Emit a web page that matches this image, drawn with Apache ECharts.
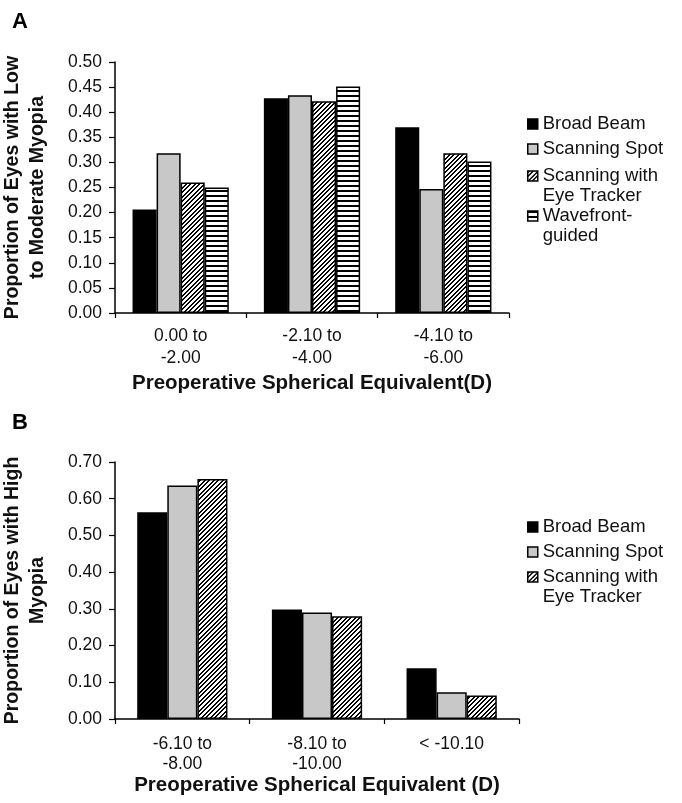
<!DOCTYPE html>
<html>
<head>
<meta charset="utf-8">
<script src="https://cdn.jsdelivr.net/npm/echarts@6/dist/echarts.min.js"></script>
<style>
html,body{margin:0;padding:0;background:#fff;}
#chart{width:682px;height:803px;}
</style>
</head>
<body>
<div id="chart"></div>
<script>
// ---- Data ----
var categoriesA = ['0.00 to\n-2.00', '-2.10 to\n-4.00', '-4.10 to\n-6.00'];
var broadBeamA = [0.206, 0.428, 0.370];
var scanningSpotA = [0.318, 0.434, 0.247];
var eyeTrackerA = [0.260, 0.422, 0.318];
var wavefrontA = [0.250, 0.451, 0.302];

var categoriesB = ['-6.10 to\n-8.00', '-8.10 to\n-10.00', '< -10.10'];
var broadBeamB = [0.563, 0.298, 0.138];
var scanningSpotB = [0.636, 0.290, 0.073];
var eyeTrackerB = [0.654, 0.280, 0.064];

var seriesNames = ['Broad Beam', 'Scanning Spot', 'Scanning with Eye Tracker', 'Wavefront-guided'];
var legendLabels = ['Broad Beam', 'Scanning Spot', 'Scanning with\nEye Tracker', 'Wavefront-\nguided'];
var yTicksA = {min: 0, max: 0.5, interval: 0.05};
var yTicksB = {min: 0, max: 0.7, interval: 0.1};

// ---- Patterns ----
function makePattern(size, fn) {
  var c = document.createElement('canvas');
  c.width = size; c.height = size;
  var ctx = c.getContext('2d');
  var img = ctx.createImageData(size, size);
  for (var y = 0; y < size; y++) {
    for (var x = 0; x < size; x++) {
      var i = (y * size + x) * 4;
      var v = fn(x, y) ? 0 : 255;
      img.data[i] = v; img.data[i+1] = v; img.data[i+2] = v; img.data[i+3] = 255;
    }
  }
  ctx.putImageData(img, 0, 0);
  return {image: c, repeat: 'repeat'};
}
var diagPattern = makePattern(9, function (x, y) { var m = (x + y) % 9; return m < 2 || m === 4 || m === 5; });
var horizPattern = makePattern(5, function (x, y) { return (y % 5) < 2; });

var FONT = "'Liberation Sans', Arial, Helvetica, sans-serif";
var fills = ['#000000', '#c8c8c8', diagPattern, horizPattern];
function itemStyle(i) {
  return {color: fills[i], borderColor: '#000', borderWidth: 1.5};
}

function makeSeries(idx, gridIdx, data, catGap) {
  return {
    type: 'bar', name: seriesNames[idx], xAxisIndex: gridIdx, yAxisIndex: gridIdx,
    data: data, barGap: '0%', barCategoryGap: catGap,
    itemStyle: itemStyle(idx), emphasis: {disabled: true}
  };
}

function legendItem(idx, left, top) {
  var label = legendLabels[idx];
  var multi = label.indexOf('\n') >= 0;
  return {
    left: left, top: top, orient: 'vertical', selectedMode: false, padding: 0,
    itemWidth: 10, itemHeight: 10, icon: 'rect',
    itemStyle: {borderColor: '#000', borderWidth: 1.5},
    textStyle: {fontFamily: FONT, fontSize: 18.5, color: '#111', lineHeight: 20},
    formatter: function () { return multi ? ' \n' + label : label; },
    data: [{name: seriesNames[idx]}]
  };
}

function yAxis(gridIdx, t, name) {
  return {
    type: 'value', gridIndex: gridIdx, min: t.min, max: t.max, interval: t.interval,
    name: name, nameLocation: 'middle', nameRotate: 90, nameGap: 64.5,
    nameTextStyle: {fontFamily: FONT, fontSize: 19.5, fontWeight: 'bold', color: '#111', lineHeight: 25},
    axisLine: {show: true, lineStyle: {color: '#000', width: 1.5}},
    axisTick: {show: true, length: 6, lineStyle: {color: '#000', width: 1.2}},
    axisLabel: {fontFamily: FONT, fontSize: 17.5, color: '#111', margin: 13,
      formatter: function (v) { return v.toFixed(2); }},
    splitLine: {show: false}
  };
}
function xAxis(gridIdx, cats, name, lineH, margin, nameGap) {
  return {
    type: 'category', gridIndex: gridIdx, data: cats,
    name: name, nameLocation: 'middle', nameGap: nameGap,
    nameTextStyle: {fontFamily: FONT, fontSize: 20.5, fontWeight: 'bold', color: '#111'},
    axisLine: {show: true, lineStyle: {color: '#000', width: 1.5}},
    axisTick: {show: true, length: 5, alignWithLabel: false, lineStyle: {color: '#000', width: 1.2}},
    axisLabel: {fontFamily: FONT, fontSize: 17.5, color: '#111', margin: margin, lineHeight: lineH, interval: 0}
  };
}

var chart = echarts.init(document.getElementById('chart'), null, {renderer: 'canvas'});
var option = {
  animation: false,
  backgroundColor: '#fff',
  title: [
    {text: 'A', left: 12, top: 11, padding: 0, textStyle: {fontFamily: FONT, fontSize: 22, fontWeight: 'bold', color: '#000'}},
    {text: 'B', left: 12, top: 412, padding: 0, textStyle: {fontFamily: FONT, fontSize: 22, fontWeight: 'bold', color: '#000'}}
  ],
  grid: [
    {left: 115, top: 62, width: 394, height: 251, outerBoundsMode: 'none', containLabel: false},
    {left: 115, top: 462, width: 404, height: 257, outerBoundsMode: 'none', containLabel: false}
  ],
  xAxis: [
    xAxis(0, categoriesA, 'Preoperative Spherical Equivalent(D)', 22, 12, 59.5),
    xAxis(1, categoriesB, 'Preoperative Spherical Equivalent (D)', 20, 15, 56)
  ],
  yAxis: [
    yAxis(0, yTicksA, 'Proportion of Eyes with Low\nto Moderate Myopia'),
    yAxis(1, yTicksB, 'Proportion of Eyes with High\nMyopia')
  ],
  legend: [
    legendItem(0, 527, 114),
    legendItem(1, 527, 139),
    legendItem(2, 527, 146),
    legendItem(3, 527, 186),
    legendItem(0, 527, 517),
    legendItem(1, 527, 542),
    legendItem(2, 527, 547)
  ],
  series: [
    makeSeries(0, 0, broadBeamA, '26.7%'),
    makeSeries(1, 0, scanningSpotA, '26.7%'),
    makeSeries(2, 0, eyeTrackerA, '26.7%'),
    makeSeries(3, 0, wavefrontA, '26.7%'),
    makeSeries(0, 1, broadBeamB, '33%'),
    makeSeries(1, 1, scanningSpotB, '33%'),
    makeSeries(2, 1, eyeTrackerB, '33%')
  ]
};
chart.setOption(option);
</script>
</body>
</html>
